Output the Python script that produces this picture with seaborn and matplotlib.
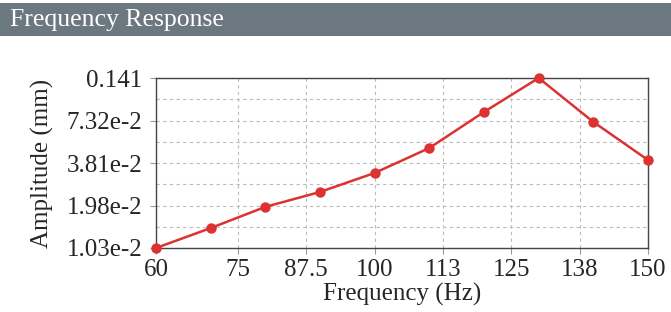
import matplotlib as mpl
import matplotlib.pyplot as plt
import matplotlib.ticker as mticker
from matplotlib.patches import Rectangle
import numpy as np
import pandas as pd
import seaborn as sns

freq = [60, 70, 80, 90, 100, 110, 120, 130, 140, 150]
amp = [0.0103, 0.0140, 0.0194, 0.0244, 0.0327, 0.0480, 0.0836, 0.141, 0.0717, 0.0399]

x_ticks = [60, 75, 87.5, 100, 112.5, 125, 137.5, 150]
x_labels = ['60', '75', '87.5', '100', '113', '125', '138', '150']
y_ticks = [0.0103, 0.0198, 0.0381, 0.0732, 0.141]
y_labels = ['1.03e-2', '1.98e-2', '3.81e-2', '7.32e-2', '0.141']

sns.set_style('white')
mpl.rcParams['font.family'] = ['Liberation Serif', 'DejaVu Serif']

df = pd.DataFrame({'freq': freq, 'amp': amp})

fig = plt.figure(figsize=(6.71, 3.12), dpi=100)
# grey title band
fig.patches.append(Rectangle((0, 1 - 36/312), 1, 33/312, transform=fig.transFigure,
                             facecolor='#6b7880', edgecolor='none', zorder=0))
fig.text(10/671, 1 - 20/312, 'Frequency Response', color='white', fontsize=18.5,
         va='center', ha='left')

ax = fig.add_axes([156/671, 1 - 248/312, 492/671, 170/312])
sns.lineplot(data=df, x='freq', y='amp', ax=ax, color='#dc3232', linewidth=1.8,
             marker='o', markersize=7.5, markeredgewidth=0, clip_on=False, zorder=5)
ax.set_yscale('log')
ax.set_xlim(60, 150)
ax.set_ylim(0.0103, 0.141)

ax.set_xticks(x_ticks)
ax.set_xticklabels(x_labels)
ax.set_yticks(y_ticks)
ax.set_yticklabels(y_labels)
mids = np.sqrt(np.array(y_ticks[:-1]) * np.array(y_ticks[1:]))
ax.yaxis.set_minor_locator(mticker.FixedLocator(mids))
ax.yaxis.set_minor_formatter(mticker.NullFormatter())

ax.grid(True, which='both', axis='y', linestyle=(0, (3, 3)), color='#bbbbbb', linewidth=0.8)
ax.grid(True, which='major', axis='x', linestyle=(0, (3, 3)), color='#bbbbbb', linewidth=0.8)
ax.tick_params(axis='both', which='major', labelsize=18, length=4, width=0.8,
               color='#999999', left=True, bottom=True)
ax.tick_params(axis='y', which='major', pad=6)
ax.tick_params(axis='x', which='major', pad=4)
ax.tick_params(axis='y', which='minor', length=0)
for s in ax.spines.values():
    s.set_color('#444444')
    s.set_linewidth(1.0)

ax.set_xlabel('Frequency (Hz)', fontsize=18, labelpad=1)
ax.set_ylabel('Amplitude (mm)', fontsize=18, labelpad=9)

fig.savefig('out.png', dpi=100)
